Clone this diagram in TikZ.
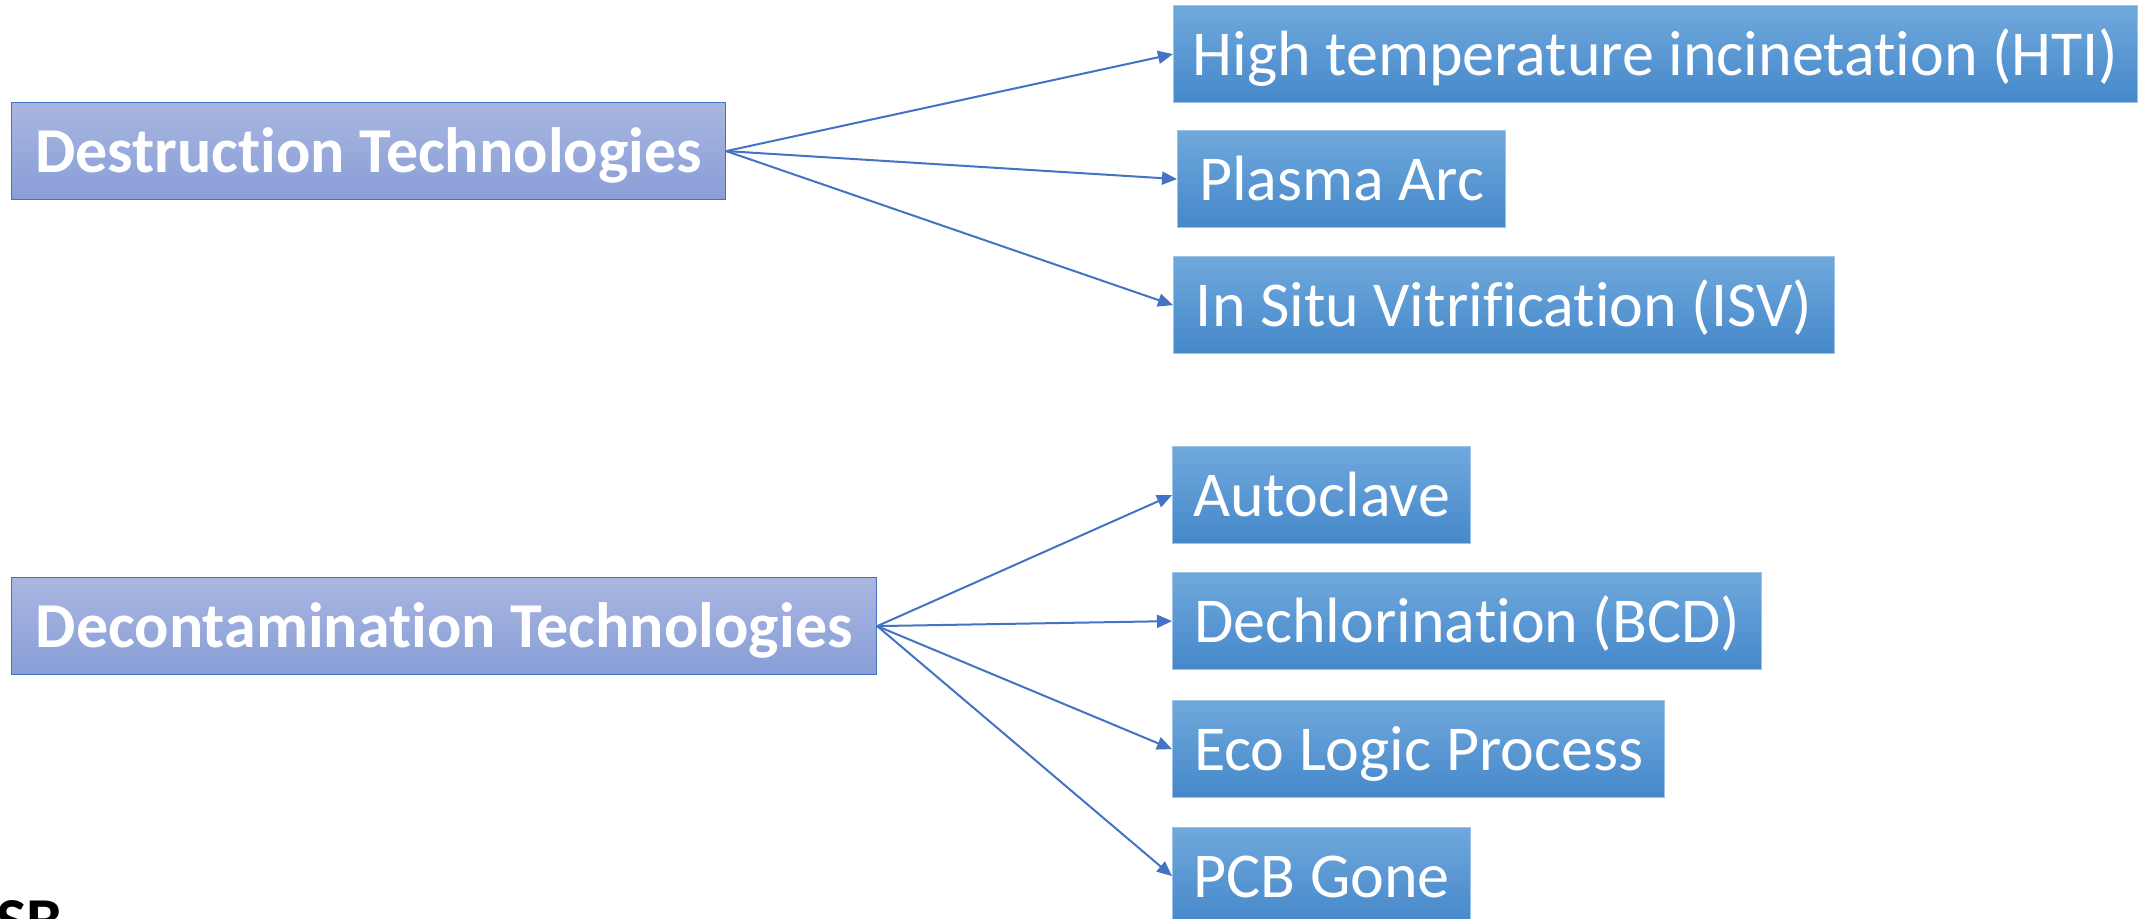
\documentclass[tikz,border=0pt]{standalone}
\usepackage{fontspec}
\setmainfont{Carlito}
\usetikzlibrary{arrows.meta}
\newcommand{\nolig}{\kern0pt}
\definecolor{lefttop}{HTML}{A9B6E0}
\definecolor{leftbot}{HTML}{889ED7}
\definecolor{leftedge}{HTML}{4472C4}
\definecolor{righttop}{HTML}{70A8DC}
\definecolor{rightbot}{HTML}{4588CA}
\definecolor{rightedge}{HTML}{9DC3E6}
\definecolor{arrowblue}{HTML}{4472C4}
\tikzset{
  catbox/.style={draw=leftedge, line width=0.6pt, top color=lefttop, bottom color=leftbot,
    text=white, font=\fontsize{32}{36}\selectfont\bfseries, minimum height=48.5pt,
    text height=21pt, text depth=0pt, inner sep=0pt, anchor=north west},
  techbox/.style={draw=rightedge, line width=0.6pt, top color=righttop, bottom color=rightbot,
    text=white, font=\fontsize{32}{36}\selectfont, minimum height=48.5pt,
    text height=21pt, text depth=0pt, inner sep=0pt, anchor=north west},
  arr/.style={draw=arrowblue, line width=1pt, -{Triangle[length=7.5pt,width=6.5pt]}}
}
\begin{document}
\begin{tikzpicture}[x=0.5pt,y=-0.5pt]
\useasboundingbox (0,0) rectangle (2144,919);
\clip (0,0) rectangle (2144,919);
\fill[white] (0,0) rectangle (2144,919);

\node[catbox, minimum width=357pt] (destr) at (11,102) {Destruct\nolig ion Technologies};
\node[catbox, minimum width=432.5pt] (decon) at (11,577) {Decontaminat\nolig ion Technologies};

\node[techbox, minimum width=482pt] (hti) at (1173,5) {High temperature incinetat\nolig ion (HTI)};
\node[techbox, minimum width=164pt] (plasma) at (1177,130) {Plasma Arc};
\node[techbox, minimum width=330.5pt] (isv) at (1173,256) {In Situ Vitrif\nolig icat\nolig ion (ISV)};

\node[techbox, minimum width=149pt] (auto) at (1172,446) {Autoclave};
\node[techbox, minimum width=294.5pt] (bcd) at (1172,572) {Dechlorinat\nolig ion (BCD)};
\node[techbox, minimum width=246pt] (eco) at (1172,700) {Eco Logic Process};
\node[techbox, minimum width=149pt] (pcb) at (1172,827) {PCB Gone};

\node[anchor=north west, inner sep=0pt, font=\fontsize{32}{36}\selectfont\bfseries, text=black] (sb) at (-4,900) {SB};

\draw[arr] (destr.east) -- (hti.west);
\draw[arr] (destr.east) -- (plasma.west);
\draw[arr] (destr.east) -- (isv.west);

\draw[arr] (decon.east) -- (auto.west);
\draw[arr] (decon.east) -- (bcd.west);
\draw[arr] (decon.east) -- (eco.west);
\draw[arr] (decon.east) -- (pcb.west);
\end{tikzpicture}
\end{document}
